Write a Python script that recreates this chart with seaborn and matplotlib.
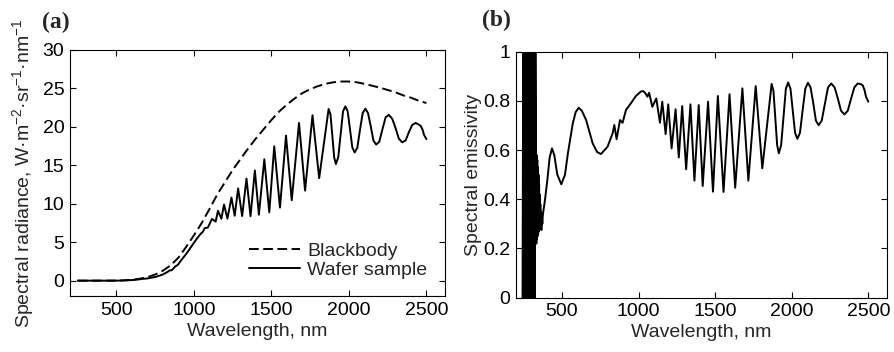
import matplotlib
matplotlib.use('Agg')
import pandas as pd
import matplotlib.pyplot as plt
import seaborn as sns

# Radiância espectral (a) e emissividade espectral (b) do wafer

# Corpo negro, W.m-2.sr-1.nm-1
bb_nm = [250, 300, 350, 400, 450, 500, 550, 600, 650, 700, 750, 800, 850, 900, 950,
         1000, 1050, 1100, 1150, 1200, 1250, 1300, 1350, 1400, 1450, 1500, 1550,
         1600, 1650, 1700, 1750, 1800, 1850, 1900, 1950, 2000, 2050, 2100, 2150,
         2200, 2250, 2300, 2350, 2400, 2450, 2500]
bb_val = [0, 0, 0, 0, 0, 0.01, 0.04, 0.1, 0.25, 0.45, 0.8, 1.3, 2.0, 3.0, 4.4,
          5.9, 7.5, 9.3, 11.2, 12.8, 14.4, 15.8, 17.2, 18.5, 19.7, 20.9, 22.0,
          22.9, 23.7, 24.4, 24.9, 25.3, 25.6, 25.8, 25.9, 25.9, 25.8, 25.6, 25.35,
          25.1, 24.8, 24.5, 24.1, 23.8, 23.4, 23.1]

# Amostra (wafer)
wafer_nm = [250, 300, 366, 435, 496, 539, 571, 610, 658, 701, 755, 798, 831, 842, 857,
            879, 896, 918, 950, 983, 1015, 1043, 1058, 1069, 1090, 1116, 1140, 1155,
            1177, 1194, 1216, 1242, 1263, 1285, 1311, 1339, 1365, 1393, 1419, 1454,
            1486, 1518, 1555, 1594, 1631, 1678, 1717, 1765, 1808, 1869, 1881, 1892,
            1905, 1916, 1931, 1946, 1962, 1977, 1992, 2007, 2022, 2037, 2054, 2071,
            2089, 2106, 2123, 2141, 2158, 2176, 2196, 2217, 2237, 2258, 2280, 2301,
            2322, 2344, 2366, 2388, 2409, 2431, 2450, 2463, 2475, 2485, 2500]
wafer_val = [0, 0, 0, 0, 0, 0.02, 0.05, 0.09, 0.20, 0.29, 0.50, 0.79, 1.15, 1.33, 1.35,
             1.84, 2.06, 2.67, 3.48, 4.43, 5.36, 6.08, 6.37, 6.83, 6.91, 8.02, 7.68, 9.09,
             8.05, 9.90, 8.07, 10.80, 8.44, 12.0, 8.40, 13.28, 8.38, 14.33, 8.58, 15.78,
             8.88, 17.47, 9.50, 18.86, 10.46, 20.51, 11.71, 21.5, 13.33, 22.33, 21.63, 19.09,
             16.01, 15.17, 16.04, 18.91, 22.02, 22.66, 22.02, 19.67, 17.32, 16.67, 17.27, 19.55,
             21.80, 22.37, 21.80, 20.07, 18.22, 17.70, 18.07, 19.75, 21.25, 21.56, 21.03, 19.85,
             18.47, 17.99, 18.24, 19.36, 20.26, 20.51, 20.31, 20.13, 19.65, 18.95, 18.41]

# Emissividade (inclui a região ruidosa no UV)
eps_nm = [243, 247, 251, 255, 259, 263, 267, 271, 275, 279, 283, 287, 291, 295, 299,
          303, 307, 311, 315, 319, 323, 327,
          331, 333, 335, 337, 339, 341, 343, 345, 347, 349, 351, 353, 355, 357, 359,
          361, 364, 366, 369, 372, 376,
          390, 405, 420, 435, 450, 470, 496, 520, 539, 571, 590, 610, 630, 658, 701,
          730, 755, 798, 831, 842, 857, 879, 896, 918, 950, 983, 1015, 1030, 1043,
          1058, 1069, 1090, 1116, 1140, 1155, 1177, 1194, 1216, 1242, 1263, 1285,
          1311, 1339, 1365, 1393, 1419, 1454, 1486, 1518, 1555, 1594, 1631, 1678,
          1717, 1765, 1808, 1869, 1881, 1892, 1905, 1916, 1931, 1946, 1962, 1977,
          1992, 2007, 2022, 2037, 2054, 2071, 2089, 2106, 2123, 2141, 2158, 2176,
          2196, 2217, 2237, 2258, 2280, 2301, 2322, 2344, 2366, 2388, 2409, 2431,
          2450, 2463, 2475, 2485, 2500]
eps_val = [0.0, 1.0, 0.0, 1.0, 0.0, 1.0, 0.0, 1.0, 0.0, 1.0, 0.0, 1.0, 0.0, 1.0, 0.0,
           1.0, 0.0, 1.0, 0.0, 1.0, 0.0, 1.0,
           0.59, 0.22, 0.58, 0.24, 0.56, 0.25, 0.53, 0.26, 0.50, 0.27, 0.46, 0.28, 0.42,
           0.29, 0.38, 0.28, 0.35, 0.275, 0.33, 0.30, 0.34,
           0.40, 0.48, 0.57, 0.607, 0.58, 0.50, 0.461, 0.50, 0.587, 0.709, 0.755, 0.772,
           0.76, 0.722, 0.627, 0.592, 0.584, 0.614, 0.668, 0.702, 0.644, 0.722, 0.711,
           0.763, 0.79, 0.82, 0.838, 0.84, 0.833, 0.817, 0.833, 0.776, 0.810, 0.711,
           0.797, 0.665, 0.786, 0.607, 0.766, 0.570, 0.779, 0.522, 0.786, 0.476, 0.783,
           0.454, 0.797, 0.431, 0.820, 0.430, 0.827, 0.447, 0.851, 0.476, 0.860, 0.526,
           0.869, 0.84, 0.74, 0.62, 0.587, 0.62, 0.73, 0.85, 0.875, 0.85, 0.76, 0.67,
           0.646, 0.67, 0.76, 0.85, 0.874, 0.855, 0.79, 0.72, 0.701, 0.72, 0.79, 0.855,
           0.871, 0.855, 0.81, 0.76, 0.745, 0.76, 0.81, 0.855, 0.871, 0.868, 0.864,
           0.845, 0.817, 0.797]

bb = pd.DataFrame({'nm': bb_nm, 'val': bb_val})
wafer = pd.DataFrame({'nm': wafer_nm, 'val': wafer_val})
eps = pd.DataFrame({'nm': eps_nm, 'val': eps_val})

sns.set_style('ticks')
plt.rcParams['font.family'] = ['Liberation Sans', 'DejaVu Sans']
plt.rcParams['mathtext.fontset'] = 'custom'
plt.rcParams['mathtext.rm'] = 'Liberation Sans'
plt.rcParams['mathtext.it'] = 'Liberation Sans:italic'
plt.rcParams['mathtext.bf'] = 'Liberation Sans:bold'

fs = 14
fig = plt.figure(figsize=(8.95, 3.52), dpi=100)
ax1 = fig.add_axes([0.0782, 0.159, 0.419, 0.699])
ax2 = fig.add_axes([0.5765, 0.1543, 0.4142, 0.6988])

lw = 1.4
sns.lineplot(data=bb, x='nm', y='val', ax=ax1, color='black', lw=lw,
             linestyle=(0, (5, 2.3)), label='Blackbody', estimator=None, sort=False)
sns.lineplot(data=wafer, x='nm', y='val', ax=ax1, color='black', lw=lw,
             label='Wafer sample', estimator=None, sort=False)
sns.lineplot(data=eps, x='nm', y='val', ax=ax2, color='black', lw=lw,
             estimator=None, sort=False)

ax1.set_xlim(200, 2620)
ax1.set_ylim(-2, 30)
ax1.set_yticks(range(0, 31, 5))
ax2.set_xlim(200, 2620)
ax2.set_ylim(0, 1)
ax2.set_yticks([0, 0.2, 0.4, 0.6, 0.8, 1])
ax2.set_yticklabels(['0', '0.2', '0.4', '0.6', '0.8', '1'])

for ax in (ax1, ax2):
    ax.set_xticks([500, 1000, 1500, 2000, 2500])
    ax.tick_params(direction='in', top=True, right=True, length=4, width=0.8,
                   labelsize=fs, pad=4, colors='black')
    for s in ax.spines.values():
        s.set_linewidth(0.8)
        s.set_color('black')
    ax.set_xlabel('Wavelength, nm', fontsize=fs, labelpad=3)

ax1.set_ylabel('Spectral radiance, W·m$^{-2}$·sr$^{-1}$·nm$^{-1}$', fontsize=fs, labelpad=5)
ax2.set_ylabel('Spectral emissivity', fontsize=fs, labelpad=1)

ax1.legend(loc='lower right', frameon=False, fontsize=fs, handlelength=2.6,
           labelspacing=0.05, handletextpad=0.4, borderaxespad=0.5)

fig.text(42 / 895, 1 - 22 / 352, '(a)', fontsize=17, fontweight='bold',
         family='Liberation Serif', va='center', ha='left')
fig.text(482 / 895, 1 - 20 / 352, '(b)', fontsize=17, fontweight='bold',
         family='Liberation Serif', va='center', ha='left')

plt.savefig('out.png', dpi=100)
plt.close()
